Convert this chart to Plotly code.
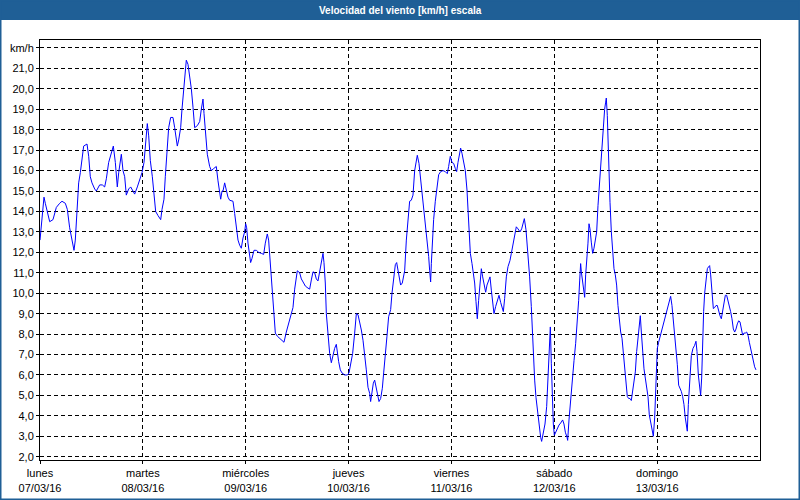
import pandas as pd
import plotly.graph_objects as go

# ---- data (hours since 07/03/16 00:00, wind speed km/h) ----
hours = [
    0.0, 0.31, 0.93, 1.24, 1.71, 2.26, 3.03, 3.81, 4.59, 5.13, 5.91, 6.38, 6.92, 7.31, 7.93, 8.24, 8.71, 9.02, 9.41, 9.8,
    10.19, 10.97, 11.36, 11.74, 12.13, 12.76, 13.14, 13.92, 14.54, 15.09, 15.48, 16.02, 16.64, 17.11, 17.58, 17.89, 18.04,
    18.36, 18.98, 19.37, 19.76, 20.14, 20.69, 21.16, 21.7, 22.09, 22.71, 23.26, 23.8, 24.27, 24.58, 24.81, 25.04, 25.36,
    25.74, 26.21, 26.6, 26.99, 27.53, 28.16, 28.47, 28.93, 29.24, 29.63, 30.02, 30.49, 31.03, 31.42, 31.73, 32.04, 32.36,
    32.82, 33.13, 33.52, 33.91, 34.14, 34.53, 34.92, 35.31, 35.7, 36.09, 36.71, 37.26, 37.64, 38.03, 38.27, 38.58, 39.04,
    39.59, 39.98, 40.52, 41.14, 41.53, 41.92, 42.16, 42.47, 42.7,
    43.09, 43.48, 43.86, 44.25, 45.03, 45.42, 45.81, 46.2, 46.59, 46.97, 47.36, 47.75, 47.99, 48.22, 48.53, 48.92, 49.15,
    49.46, 49.93, 50.47, 51.02, 51.64, 52.19, 52.57, 53.04, 53.35, 53.82, 54.21, 54.6, 54.91, 55.37, 55.92, 56.46, 56.93,
    57.47, 58.02, 58.49, 59.03, 59.42, 59.81, 60.04, 60.59, 60.98, 61.52, 61.91, 62.53, 62.92, 63.31, 63.7, 64.09, 64.48,
    64.86, 65.25, 65.64, 66.03, 66.26, 66.57, 66.81, 67.2, 67.59, 67.98, 68.36, 68.75, 69.14, 69.37, 69.69, 70.07, 70.46,
    71.09, 71.71, 72.1, 72.49, 72.95, 73.42, 73.81, 74.2, 74.59, 74.98, 75.37, 75.75, 76.14, 76.53, 76.92, 77.15, 77.46,
    77.78, 78.09, 78.4, 78.71, 79.1, 79.49, 79.88, 80.19, 80.58, 80.96, 81.35, 81.82, 82.13, 82.52, 82.91, 83.22, 83.53,
    83.92, 84.15, 84.54,
    85.09, 85.48, 85.86, 86.25, 86.64, 87.03, 87.42, 87.81, 88.04, 88.43, 88.82, 89.21, 89.6, 89.99, 90.37, 90.69, 90.92,
    91.15, 91.31, 91.54, 91.85, 92.24, 92.63, 93.02, 93.49, 94.03, 94.57, 95.04, 95.35, 95.74, 96.13, 96.52, 96.91, 97.22,
    97.53, 97.92, 98.15, 98.46, 98.85, 99.24, 99.63, 99.86, 100.1, 100.41, 100.8, 101.11, 101.42, 101.73, 102.04, 102.35,
    102.66, 102.98, 103.29, 103.6, 103.99, 104.3, 104.69, 105.0, 105.31, 105.62, 105.93, 106.32, 106.71, 107.1, 107.49,
    107.8, 108.11, 108.42, 108.81, 109.2, 109.66, 109.98, 110.36, 110.75, 111.14, 111.53, 112.0, 112.39, 112.7, 113.01,
    113.4, 113.86, 114.25, 114.64, 114.87, 115.11, 115.42, 115.73, 116.12, 116.51, 116.82, 117.05, 117.44, 117.83, 118.22,
    118.53, 118.84, 119.08, 119.31, 119.54, 119.78, 120.01, 120.32, 120.71, 121.1, 121.49, 121.95, 122.26, 122.58, 122.97,
    123.12, 123.43, 123.82, 124.21, 124.6, 124.99, 125.38, 125.69, 125.92, 126.15,
    126.31, 126.54, 126.85, 127.09, 127.32, 127.63, 127.86, 128.1, 128.33, 128.64, 128.95, 129.26, 129.57, 129.89, 130.2,
    130.51, 130.82, 131.13, 131.44, 131.75, 131.99, 132.14, 132.37, 132.69, 133.0, 133.31, 133.62, 133.93, 134.24, 134.55,
    134.86, 135.17, 135.49, 135.8, 136.11, 136.42, 136.73, 137.04, 137.35, 137.66, 137.97, 138.29, 138.6, 138.91, 139.22,
    139.53, 139.84, 140.07, 140.31, 140.62, 140.93, 141.24, 141.55, 141.86, 142.17, 142.49, 142.8, 143.11, 143.42, 143.73,
    144.04, 144.35, 144.66, 144.97, 145.36, 145.75, 146.14, 146.53, 146.84, 147.15, 147.46, 147.77, 148.09, 148.4, 148.71,
    149.02, 149.33, 149.64, 149.95, 150.26, 150.57, 150.89, 151.04, 151.28, 151.59, 151.98, 152.36, 152.75, 153.06, 153.3,
    153.61, 153.92, 154.15, 154.39, 154.62, 154.85, 155.09, 155.4, 155.71, 156.02, 156.25, 156.49, 156.8, 157.11, 157.42,
    157.73, 158.04, 158.35, 158.66, 158.98, 159.29, 159.6, 159.91, 160.22, 160.53, 160.84, 161.15, 161.46, 161.78, 162.09,
    162.4, 162.71, 163.02, 163.33, 163.64, 163.95, 164.26, 164.57, 164.88, 165.2, 165.51, 165.82, 166.13, 166.44, 166.75,
    167.06,
]

speed = [
    12.6, 13.2, 14.7, 14.4, 13.9, 13.5, 13.6, 14.2, 14.4, 14.5, 14.4, 14.1, 13.2, 12.8, 12.1, 12.6, 14.1, 15.4, 15.9, 16.7,
    17.2, 17.3, 16.7, 15.7, 15.4, 15.1, 15.0, 15.3, 15.3, 15.2, 15.6, 16.4, 16.9, 17.2, 16.4, 15.7, 15.2,
    15.9, 16.8, 16.0, 15.7, 14.8, 15.1, 15.2, 15.0, 14.85, 15.2, 15.6, 15.9, 16.4, 17.2, 18.0, 18.3, 17.7,
    16.5, 15.7, 14.9, 14.0, 13.8, 13.6, 14.1, 14.6, 15.7, 17.0, 18.1, 18.6, 18.6, 18.1, 17.7, 17.2, 17.5,
    18.1, 19.0, 19.9, 21.0, 21.4, 21.2, 20.6, 20.0, 19.1, 18.1, 18.2, 18.4, 19.0, 19.5, 18.8, 17.8, 16.8,
    16.2, 16.0, 16.1, 16.2, 15.5, 14.9, 14.6, 15.0, 15.0,
    15.4, 15.0, 14.7, 14.55, 14.5, 13.9, 13.1, 12.6, 12.35, 12.2, 12.7, 13.0, 13.4, 13.2, 12.45, 11.9, 11.5,
    11.7, 12.1, 12.1, 12.0, 11.95, 11.9, 12.45, 12.9, 12.6, 11.3, 10.2, 9.0, 8.05, 7.9, 7.8, 7.7, 7.6,
    8.1, 8.5, 8.9, 9.3, 10.2, 10.9, 11.1, 11.0, 10.7, 10.5, 10.35, 10.25, 10.2, 10.65, 11.05, 11.0, 10.7,
    10.6, 11.1, 11.6, 11.95, 11.5, 10.5, 9.0, 8.05, 7.05, 6.6, 7.0, 7.3, 7.5, 7.05, 6.65, 6.25, 6.1,
    6.0, 6.0, 6.1, 6.6, 7.05, 8.05, 9.0, 8.95, 8.6, 8.2, 7.7, 7.05, 6.25, 5.4, 5.1, 4.7, 5.1,
    5.6, 5.75, 5.4, 5.0, 4.7, 4.85, 5.35, 6.1, 6.9, 7.9, 8.85, 9.2, 10.0, 10.8, 11.4, 11.5, 11.1,
    10.8, 10.4, 10.5,
    11.1, 12.6, 13.7, 14.5, 14.55, 14.8, 16.0, 16.5, 16.75, 16.35, 15.6, 14.9, 14.05, 13.25, 12.6, 11.8, 11.1,
    10.55, 11.45, 12.6, 13.6, 14.5, 15.2, 15.8, 15.95, 16.0, 15.95, 15.85, 16.2, 16.7, 16.4, 16.35, 16.1, 15.95,
    16.4, 17.0, 17.1, 16.85, 16.4, 16.0, 15.05, 13.9, 12.75, 11.95, 11.45, 10.95, 10.5, 9.6, 8.75, 9.65,
    10.5, 11.2, 10.8, 10.5, 10.05, 10.4, 10.65, 10.8, 10.15, 9.5, 9.0, 9.35, 9.65, 9.9, 9.55,
    9.35, 9.1, 9.75, 10.8, 11.3, 11.6, 11.95, 12.45, 12.85, 13.25, 13.15, 13.0, 13.15, 13.4, 13.65,
    13.1, 11.95, 10.8, 9.35, 8.2, 6.9, 5.75, 4.9, 4.1, 3.45, 2.95, 2.75, 3.1, 3.6, 4.45,
    5.75, 7.7, 8.35, 6.55, 4.9, 3.6, 3.05, 3.2, 3.4, 3.55, 3.65, 3.8, 3.6, 3.2, 2.95,
    2.8, 3.8, 4.9, 5.9, 6.7, 7.55, 8.5, 9.65, 10.6, 11.45,
    11.05, 10.7, 10.4, 9.8, 10.9, 11.7, 12.45, 13.4, 13.15, 12.5, 11.95, 12.2, 12.65, 13.0, 14.3,
    15.3, 16.25, 17.55, 18.4, 19.0, 19.35, 19.55, 18.7, 15.9, 14.45, 13.0, 12.2, 11.2, 10.9, 10.4,
    9.4, 8.75, 8.1, 7.8, 7.15, 6.15, 5.85, 4.95, 4.85, 4.85, 4.75, 5.3, 5.65, 6.15, 7.15,
    7.8, 8.45, 8.9, 8.1, 7.15, 6.3, 5.85, 5.5, 4.95, 4.05, 3.7, 3.4, 3.0, 3.9, 5.85,
    7.3, 7.6, 7.85, 8.1, 8.45, 8.75, 9.1, 9.4, 9.65, 9.85, 9.4, 8.75, 8.0, 7.3, 6.5,
    5.5, 5.35, 5.2, 4.95, 4.55, 3.9, 3.55, 3.25, 4.55, 5.85, 6.95, 7.3, 7.45, 7.65, 7.15,
    6.0, 5.5, 5.0, 5.85, 7.95, 9.1, 10.0, 10.55, 11.2, 11.3, 11.35, 10.9, 10.05, 9.25, 9.3,
    9.4, 9.4, 9.1, 8.9, 8.75, 9.1, 9.6, 9.9, 9.9, 9.65, 9.4, 9.1, 8.75, 8.25, 8.1,
    8.25, 8.5, 8.65, 8.6, 8.2, 7.95, 8.05, 8.05, 8.1, 7.95, 7.6, 7.3, 6.95, 6.65, 6.4,
    6.25,
]

day_dates = ["2016-03-07", "2016-03-08", "2016-03-09", "2016-03-10",
             "2016-03-11", "2016-03-12", "2016-03-13"]
day_names = ["lunes", "martes", "miércoles", "jueves", "viernes", "sábado", "domingo"]
day_labels = ["07/03/16", "08/03/16", "09/03/16", "10/03/16", "11/03/16", "12/03/16", "13/03/16"]

y_ticks = list(range(2, 23))
y_labels = [f"{v},0" for v in range(2, 22)] + ["km/h"]

title = "Velocidad del viento [km/h] escala"

# ---- figure ----
base = pd.Timestamp("2016-03-07 00:00")
times = base + pd.to_timedelta(hours, unit="h")

FONT = "Liberation Sans, Arial, sans-serif"
BLUE_BAR = "#1f5f96"

fig = go.Figure()
fig.add_trace(go.Scatter(
    x=times, y=speed, mode="lines",
    line=dict(color="#0000ff", width=1),
    hoverinfo="x+y", showlegend=False,
))

W, H = 800, 500
ml, mr, mt, mb = 40, 40, 40, 40
pw, ph = W - ml - mr, H - mt - mb


def px_x(p):
    return (p - ml) / pw


def px_y(p):
    return 1 - (p - mt) / ph


shapes = [
    # title bar
    dict(type="rect", xref="paper", yref="paper",
         x0=px_x(0), x1=px_x(W), y0=px_y(20), y1=px_y(0),
         fillcolor=BLUE_BAR, line=dict(width=0), layer="above"),
    # outer frame
    dict(type="rect", xref="paper", yref="paper",
         x0=px_x(0.5), x1=px_x(W - 0.5), y0=px_y(H - 0.5), y1=px_y(0.5),
         line=dict(color=BLUE_BAR, width=2), fillcolor="rgba(0,0,0,0)", layer="above"),
]

fig.update_layout(
    width=W, height=H,
    margin=dict(l=ml, r=mr, t=mt, b=mb, autoexpand=False),
    paper_bgcolor="white", plot_bgcolor="white",
    font=dict(family=FONT, size=11, color="black"),
    shapes=shapes,
    annotations=[dict(
        text=f"<b>{title}</b>", xref="paper", yref="paper",
        x=0.5, y=px_y(10), xanchor="center", yanchor="middle",
        showarrow=False, font=dict(family=FONT, size=10, color="white"),
    )],
    xaxis=dict(
        type="date", automargin=False,
        range=["2016-03-07 00:00", "2016-03-14 00:00"],
        tickvals=day_dates,
        ticktext=[f"{n}<br>{d}" for n, d in zip(day_names, day_labels)],
        showgrid=True, gridcolor="black", gridwidth=1, griddash="4px,3px",
        showline=True, linecolor="black", linewidth=1, mirror=True,
        ticks="outside", ticklen=3, tickcolor="black",
        zeroline=False,
        tickfont=dict(family=FONT, size=11, color="black"),
    ),
    yaxis=dict(
        automargin=False,
        range=[1.84, 22.39],
        tickvals=y_ticks, ticktext=y_labels,
        showgrid=True, gridcolor="black", gridwidth=1, griddash="4px,3px",
        showline=True, linecolor="black", linewidth=1, mirror=True,
        ticks="outside", ticklen=3, tickcolor="black",
        zeroline=False,
        tickfont=dict(family=FONT, size=11, color="black"),
    ),
)

fig.write_html(
    "out.html",
    config={"displayModeBar": False},
    post_script="document.body.style.margin='0';document.body.style.overflow='hidden';",
)
